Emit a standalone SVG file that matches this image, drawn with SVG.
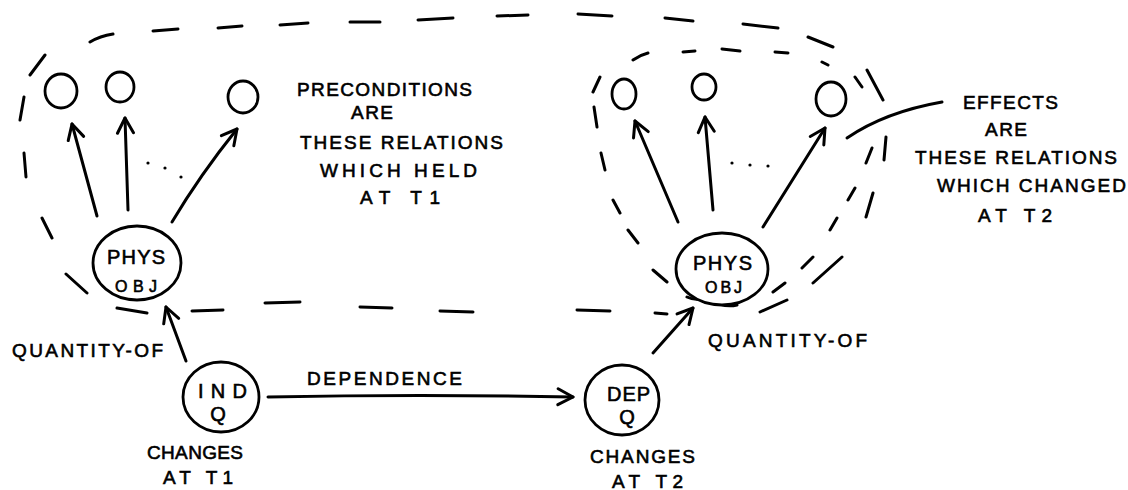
<svg xmlns="http://www.w3.org/2000/svg" width="1128" height="490" viewBox="0 0 1128 490">
  <style>
    .ink { fill: none; stroke: #000; stroke-width: 3; stroke-linecap: round; stroke-linejoin: round; }
    .node { fill: #fff; stroke: #000; stroke-width: 2.8; }
    .dash { fill: none; stroke: #000; stroke-width: 3; stroke-linecap: round; }
    .lbl { font-family: "Liberation Sans", "DejaVu Sans", sans-serif; font-size: 19px; fill: #000; stroke: #000; stroke-width: 0.6; }
    .big { font-size: 20px; }
    .sm { font-size: 16px; }
    .dot { fill: #000; }
  </style>
  <defs>
    <marker id="arr" viewBox="-17 -10 19 20" refX="0" refY="0" markerWidth="19" markerHeight="20" markerUnits="userSpaceOnUse" orient="auto">
      <path d="M-15,-8 L0,0 L-15,8" fill="none" stroke="#000" stroke-width="3" stroke-linecap="round" stroke-linejoin="round"/>
    </marker>
  </defs>
  <rect width="1128" height="490" fill="#fff"/>

  <!-- dashed boundaries: outer one around both states, inner one around the later state -->
  <g id="boundaries">
    <path class="dash" d="M90,42 Q100,36 113,34 M153,31 L178,29 M218,28 L242,26 M280,25 L308,23 M350,22 L380,22
      M418,20 L453,18 M497,16 L528,15 M578,14 L612,16 M665,18 L693,21 M743,24 L778,28 M808,37 L833,47
      M867,70 L883,100 M886,137 L884,160 M873,193 L866,217 M842,257 L813,283 M787,300 L760,312
      M667,314 L655,313 M610,311 L577,310 M473,312 L440,311 M392,308 L360,307 M300,302 L265,303
      M223,310 L192,311 M147,313 L117,308 M87,293 L66,274 M52,238 L42,218 M26,177 L24,153 M20,120 L24,97 M30,75 L45,55"/>
    <path class="dash" d="M633,60 Q640,55 648,53 M683,52 L695,51 M722,49 L740,51 M775,52 L788,53 M822,62 L828,65 M855,77 L862,87
      M872,148 L866,163 M855,188 L848,200 M837,218 L830,230 M813,257 L802,268 M785,283 L773,292
      M737,305 Q728,307 720,304 M700,299 Q693,300 687,297 M667,282 L653,270 M638,243 L628,230
      M620,213 L613,200 M605,170 L601,153 M597,127 L594,107 M593,92 L600,77"/>
  </g>

  <g id="connectors">
    <!-- earlier state: object to its relations -->
    <path class="ink" d="M97,216 L72,124" marker-end="url(#arr)"/>
    <path class="ink" d="M128,210 L125,118" marker-end="url(#arr)"/>
    <path class="ink" d="M172,222 Q200,175 237,129" marker-end="url(#arr)"/>
    <!-- later state: object to its relations -->
    <path class="ink" d="M678,222 L635,121" marker-end="url(#arr)"/>
    <path class="ink" d="M713,210 L705,117" marker-end="url(#arr)"/>
    <path class="ink" d="M763,227 L825,128" marker-end="url(#arr)"/>
    <!-- quantity-of links -->
    <path class="ink" d="M186,361 L166,307" marker-end="url(#arr)"/>
    <path class="ink" d="M653,353 L693,308" marker-end="url(#arr)"/>
    <!-- dependence -->
    <path class="ink" d="M268,397 Q420,394 573,397" marker-end="url(#arr)"/>
    <!-- leader to the effects note -->
    <path class="ink" d="M847,138 Q885,112 942,102"/>
  </g>

  <g id="ellipsis">
    <circle class="dot" cx="148" cy="163" r="1.6"/>
    <circle class="dot" cx="165" cy="168" r="1.6"/>
    <circle class="dot" cx="181" cy="177" r="1.6"/>
    <circle class="dot" cx="732" cy="163" r="1.6"/>
    <circle class="dot" cx="750" cy="165" r="1.6"/>
    <circle class="dot" cx="768" cy="166" r="1.6"/>
  </g>

  <g id="rel-t1-a"><ellipse class="node" cx="61" cy="91" rx="16" ry="17"/></g>
  <g id="rel-t1-b"><ellipse class="node" cx="120" cy="87" rx="14" ry="15"/></g>
  <g id="rel-t1-c"><ellipse class="node" cx="243" cy="97" rx="15" ry="16"/></g>
  <g id="rel-t2-a"><ellipse class="node" cx="624" cy="94" rx="12" ry="15"/></g>
  <g id="rel-t2-b"><ellipse class="node" cx="704" cy="87" rx="12" ry="13"/></g>
  <g id="rel-t2-c"><ellipse class="node" cx="831" cy="99" rx="15" ry="17"/></g>

  <g id="phys-obj-t1">
    <ellipse class="node" cx="137" cy="263" rx="44" ry="37"/>
    <text class="lbl big" x="107" y="264" textLength="58" lengthAdjust="spacing">PHYS</text>
    <text class="lbl sm" x="115" y="292" textLength="42" lengthAdjust="spacing">OBJ</text>
  </g>
  <g id="phys-obj-t2">
    <ellipse class="node" cx="722" cy="269" rx="46" ry="36"/>
    <text class="lbl big" x="693" y="270" textLength="59" lengthAdjust="spacing">PHYS</text>
    <text class="lbl sm" x="705" y="293" textLength="37" lengthAdjust="spacing">OBJ</text>
  </g>
  <g id="ind-q">
    <ellipse class="node" cx="221" cy="397" rx="38" ry="35"/>
    <text class="lbl big" x="198" y="398" textLength="49" lengthAdjust="spacing">IND</text>
    <text class="lbl big" x="218" y="421" text-anchor="middle">Q</text>
  </g>
  <g id="dep-q">
    <ellipse class="node" cx="622" cy="400" rx="37" ry="35"/>
    <text class="lbl big" x="607" y="401" textLength="43" lengthAdjust="spacing">DEP</text>
    <text class="lbl big" x="627" y="424" text-anchor="middle">Q</text>
  </g>

  <g id="labels">
    <text class="lbl" x="297" y="96" textLength="175" lengthAdjust="spacing">PRECONDITIONS</text>
    <text class="lbl" x="351" y="119" textLength="42" lengthAdjust="spacing">ARE</text>
    <text class="lbl" x="300" y="149" textLength="203" lengthAdjust="spacing">THESE RELATIONS</text>
    <text class="lbl" x="320" y="177" textLength="157" lengthAdjust="spacing">WHICH HELD</text>
    <text class="lbl" x="360" y="204" textLength="80" lengthAdjust="spacing">AT T1</text>

    <text class="lbl" x="963" y="109" textLength="95" lengthAdjust="spacing">EFFECTS</text>
    <text class="lbl" x="985" y="136" textLength="42" lengthAdjust="spacing">ARE</text>
    <text class="lbl" x="915" y="164" textLength="202" lengthAdjust="spacing">THESE RELATIONS</text>
    <text class="lbl" x="937" y="192" textLength="189" lengthAdjust="spacing">WHICH CHANGED</text>
    <text class="lbl" x="978" y="222" textLength="74" lengthAdjust="spacing">AT T2</text>

    <text class="lbl" x="12" y="357" textLength="151" lengthAdjust="spacing">QUANTITY-OF</text>
    <text class="lbl" x="708" y="347" textLength="159" lengthAdjust="spacing">QUANTITY-OF</text>
    <text class="lbl" x="307" y="385" textLength="155" lengthAdjust="spacing">DEPENDENCE</text>

    <text class="lbl" x="147" y="459" textLength="96" lengthAdjust="spacing">CHANGES</text>
    <text class="lbl" x="163" y="484" textLength="70" lengthAdjust="spacing">AT T1</text>
    <text class="lbl" x="590" y="463" textLength="105" lengthAdjust="spacing">CHANGES</text>
    <text class="lbl" x="612" y="488" textLength="71" lengthAdjust="spacing">AT T2</text>
  </g>
</svg>
